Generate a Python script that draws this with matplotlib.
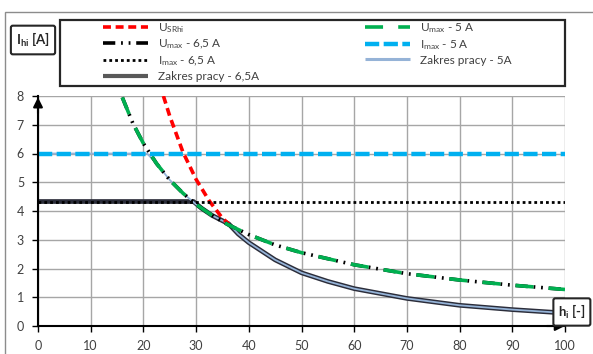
import matplotlib
matplotlib.use("Agg")
import matplotlib.pyplot as plt
from matplotlib.patches import Rectangle

plt.rcParams['font.family'] = ['Lato', 'DejaVu Sans']
plt.rcParams['mathtext.fontset'] = 'custom'
plt.rcParams['mathtext.rm'] = 'Lato'
plt.rcParams['mathtext.bf'] = 'Lato:bold'
plt.rcParams['mathtext.it'] = 'Lato:italic'

# ---- data ----
h_usr = [23.8, 25.0, 27.5, 30.0, 32.5, 35.0, 36.2]
i_usr = [8.0, 7.3, 6.05, 5.1, 4.35, 3.75, 3.55]

h_umax = [16, 18, 20, 22.5, 25, 27.5, 30, 33, 36, 40, 45, 50, 60, 70, 80, 90, 100]
i_umax_65 = [7.95, 7.05, 6.35, 5.65, 5.08, 4.62, 4.23, 3.85, 3.53, 3.18, 2.82, 2.55, 2.13, 1.82, 1.6, 1.42, 1.27]
i_umax_5 = [7.95, 7.05, 6.35, 5.65, 5.08, 4.62, 4.23, 3.85, 3.53, 3.18, 2.82, 2.55, 2.13, 1.82, 1.6, 1.42, 1.27]

h_imax = [0, 100]
i_imax_65 = [4.33, 4.33]
i_imax_5 = [6.0, 6.0]

h_zp65 = [0, 29.5, 31, 33, 36.2, 38, 40, 45, 50, 55, 60, 70, 80, 90, 100]
i_zp65 = [4.33, 4.33, 4.1, 3.85, 3.55, 3.2, 2.9, 2.3, 1.85, 1.55, 1.3, 0.96, 0.72, 0.57, 0.45]
h_zp5 = [0, 20.7, 22.5, 25, 27.5, 30, 33, 36.2, 38, 40, 45, 50, 55, 60, 70, 80, 90, 100]
i_zp5 = [6.0, 6.0, 5.65, 5.08, 4.62, 4.23, 3.85, 3.55, 3.2, 2.9, 2.3, 1.85, 1.55, 1.3, 0.96, 0.72, 0.57, 0.45]

x_ticks = [0, 10, 20, 30, 40, 50, 60, 70, 80, 90, 100]
y_ticks = [0, 1, 2, 3, 4, 5, 6, 7, 8]

labels = [r'U$_{\mathrm{SRhi}}$', r'U$_{\mathrm{max}}$ - 6,5 A', r'I$_{\mathrm{max}}$ - 6,5 A',
          'Zakres pracy - 6,5A', r'U$_{\mathrm{max}}$ - 5 A', r'I$_{\mathrm{max}}$ - 5 A',
          'Zakres pracy - 5A']

W, H = 593, 354
fig = plt.figure(figsize=(W / 100, H / 100), dpi=100)
fig.patch.set_facecolor('white')

# outer chart border
fig.add_artist(Rectangle((5 / W, -0.1), 2, 1 - 12 / H + 0.1, transform=fig.transFigure,
                         fill=False, edgecolor='#8c8c8c', lw=1.0))

ax = fig.add_axes([38 / W, 1 - 326 / H, (565 - 38) / W, (326 - 96) / H])
ax.set_xlim(0, 100)
ax.set_ylim(0, 8)

l_zp65, = ax.plot(h_zp65, i_zp65, color='#2b2d3a', lw=3.4, zorder=2, solid_capstyle='butt')
l_zp5, = ax.plot(h_zp5, i_zp5, color='#95B3D7', lw=1.3, zorder=2.1, solid_capstyle='butt')
l_usr, = ax.plot(h_usr, i_usr, color='#FF0000', lw=2.6, dashes=(2.2, 1.3), zorder=3)
l_um65, = ax.plot(h_umax, i_umax_65, color='black', lw=2.6, dashes=(3.4, 1.6, 0.5, 1.6, 0.5, 1.6), zorder=3.2)
l_um5, = ax.plot(h_umax, i_umax_5, color='#00B050', lw=2.6, dashes=(5.0, 4.2), zorder=3.3)
l_im65, = ax.plot(h_imax, i_imax_65, color='black', lw=2.0, dashes=(1, 1.1), zorder=3.4)
l_im5, = ax.plot(h_imax, i_imax_5, color='#00B0F0', lw=3.2, dashes=(3.2, 1.0), zorder=3.5)

ax.set_xticks(x_ticks)
ax.set_yticks(y_ticks)
ax.grid(True, color='#a6a6a6', lw=1.0, zorder=0)
ax.set_axisbelow(True)
for s in ['top', 'right']:
    ax.spines[s].set_visible(False)
for s in ['left', 'bottom']:
    ax.spines[s].set_color('black')
    ax.spines[s].set_linewidth(1.5)
    ax.spines[s].set_zorder(4)
ax.tick_params(axis='both', direction='out', length=4, width=1, color='black',
               labelsize=9, labelcolor='#404040', pad=6)
ax.set_yticklabels([str(v) for v in y_ticks])
ax.set_xticklabels([str(v) for v in x_ticks])

# axis arrows
ax.annotate('', xy=(0, 8.05), xytext=(0, 7.3), xycoords='data',
            arrowprops=dict(arrowstyle='-|>', color='black', lw=1.5, mutation_scale=14),
            annotation_clip=False, zorder=5)
ax.annotate('', xy=(100.5, 0), xytext=(96, 0), xycoords='data',
            arrowprops=dict(arrowstyle='-|>', color='black', lw=1.5, mutation_scale=14),
            annotation_clip=False, zorder=5)

# legend frame
fig.add_artist(Rectangle((60 / W, 1 - 86 / H), 505 / W, 66 / H, transform=fig.transFigure,
                         fill=False, edgecolor='#262626', lw=1.6))
handles = [l_usr, l_um65, l_im65, l_zp65, l_um5, l_im5, l_zp5]
leg = fig.legend(handles, labels, loc='upper left', bbox_to_anchor=(103 / W, 1 - 21 / H),
                 ncol=2, frameon=False, fontsize=8.5, borderpad=0, borderaxespad=0,
                 handlelength=3.8, handletextpad=0.9, columnspacing=8.9, labelspacing=0.25)
for t in leg.get_texts():
    t.set_color('#404040')
leg.legend_handles[6].set_linewidth(2.2)
leg.legend_handles[3].set_linewidth(3.0)
leg.legend_handles[3].set_color('#595959')

# axis title boxes
fig.text(33 / W, 1 - 40 / H, r'$\mathbf{I_{hi}}$ [A]', ha='center', va='center', fontsize=9.5,
         fontweight='bold', color='#262626',
         bbox=dict(boxstyle='round,pad=0.4,rounding_size=0.15', fc='white', ec='#262626', lw=1.5))
fig.text(558 / W, 1 - 312 / H, r'$\mathbf{h_{i}}$ [-]', ha='left', va='center', fontsize=9.5,
         fontweight='bold', color='#262626', zorder=10,
         bbox=dict(boxstyle='round,pad=0.35,rounding_size=0.15', fc='white', ec='#262626', lw=1.5))

fig.savefig('out.png', dpi=100)
